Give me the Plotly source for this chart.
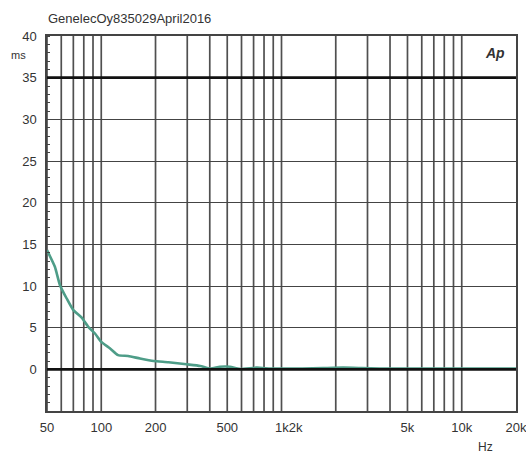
import plotly.graph_objects as go

freq_hz = [50, 55.3, 59, 64.3, 70, 77.9, 84.7, 92.3, 100, 112, 124, 141, 164, 195, 236,
           297, 354, 402, 455, 518, 586, 729, 870, 1000, 1300, 1700, 2200, 2800, 3500,
           4500, 6000, 8000, 10000, 13000, 16000, 20000]
delay_ms = [14.3, 12.3, 10.1, 8.5, 7.1, 6.2, 5.1, 4.3, 3.3, 2.5, 1.7, 1.6, 1.3, 1.0, 0.85,
            0.6, 0.4, 0.08, 0.3, 0.3, 0.05, 0.2, 0.1, 0.1, 0.1, 0.15, 0.2, 0.15, 0.1,
            0.1, 0.1, 0.1, 0.1, 0.1, 0.1, 0.1]

x_tickvals = [50, 100, 200, 500, 1000, 5000, 10000, 20000]
x_ticktext = ["50", "100", "200", "500", "\u00a0\u00a0\u00a0\u00a01k2k", "5k", "10k", "20k"]
x_grid = [m * d for d in (10, 100, 1000) for m in range(1, 10)] + [10000]
x_grid = [g for g in x_grid if g >= 50]
y_tickvals = [0, 5, 10, 15, 20, 25, 30, 35, 40]
heavy_lines = [0, 35]

font = "Liberation Sans, Arial, sans-serif"
fig = go.Figure()
fig.add_trace(go.Scatter(x=freq_hz, y=delay_ms, mode="lines",
                         line=dict(color="#4e9d88", width=2.6, shape="spline", smoothing=0.5),
                         showlegend=False, hoverinfo="skip"))

for g in x_grid:
    fig.add_shape(type="line", xref="x", yref="paper", x0=g, x1=g, y0=0, y1=1,
                  line=dict(color="#505050", width=1.7), layer="below")
for h in heavy_lines:
    fig.add_shape(type="line", xref="paper", yref="y", x0=0, x1=1, y0=h, y1=h,
                  line=dict(color="#111111", width=2.6), layer="above")

fig.update_layout(
    width=526, height=454,
    margin=dict(l=47, r=10, t=36, b=43, autoexpand=False),
    paper_bgcolor="white", plot_bgcolor="white",
    font=dict(family=font, size=13, color="#333333"),
    xaxis=dict(type="log", range=[1.69897, 4.30103], tickvals=x_tickvals, ticktext=x_ticktext,
               showgrid=False, zeroline=False, showline=True, linecolor="#444444",
               linewidth=1.5, mirror=True, ticks="", ticklabelstandoff=4, automargin=False,
               ticklabeloverflow="allow",
               tickfont=dict(size=13, color="#333333")),
    yaxis=dict(range=[-5, 40], tickvals=y_tickvals, showgrid=True, gridcolor="#444444",
               gridwidth=1.4, zeroline=False, showline=True, linecolor="#444444",
               linewidth=1.5, mirror=True, ticks="", ticklabelstandoff=6, automargin=False,
               ticklabeloverflow="allow",
               tickfont=dict(size=13, color="#333333"),
               minor=dict(dtick=1, tick0=0, ticks="inside", ticklen=3, tickcolor="#444444",
                          showgrid=False)),
    annotations=[
        dict(text="GenelecOy835029April2016", xref="paper", yref="paper", x=-0.002, y=1.0,
             yshift=18, xanchor="left", yanchor="middle", showarrow=False,
             font=dict(size=13, color="#333333")),
        dict(text="ms", xref="paper", yref="paper", x=-0.06, y=0.95, xanchor="center",
             yanchor="middle", showarrow=False, font=dict(size=11, color="#333333")),
        dict(text="Hz", xref="paper", yref="paper", x=0.935, y=0, yshift=-36,
             xanchor="center", yanchor="middle", showarrow=False,
             font=dict(size=12, color="#333333")),
        dict(text="<b><i>Ap</i></b>", xref="paper", yref="paper", x=0.955, y=0.955,
             xanchor="center", yanchor="middle", showarrow=False,
             font=dict(size=14, color="#333333")),
    ],
)

fig.write_html("out.html")
